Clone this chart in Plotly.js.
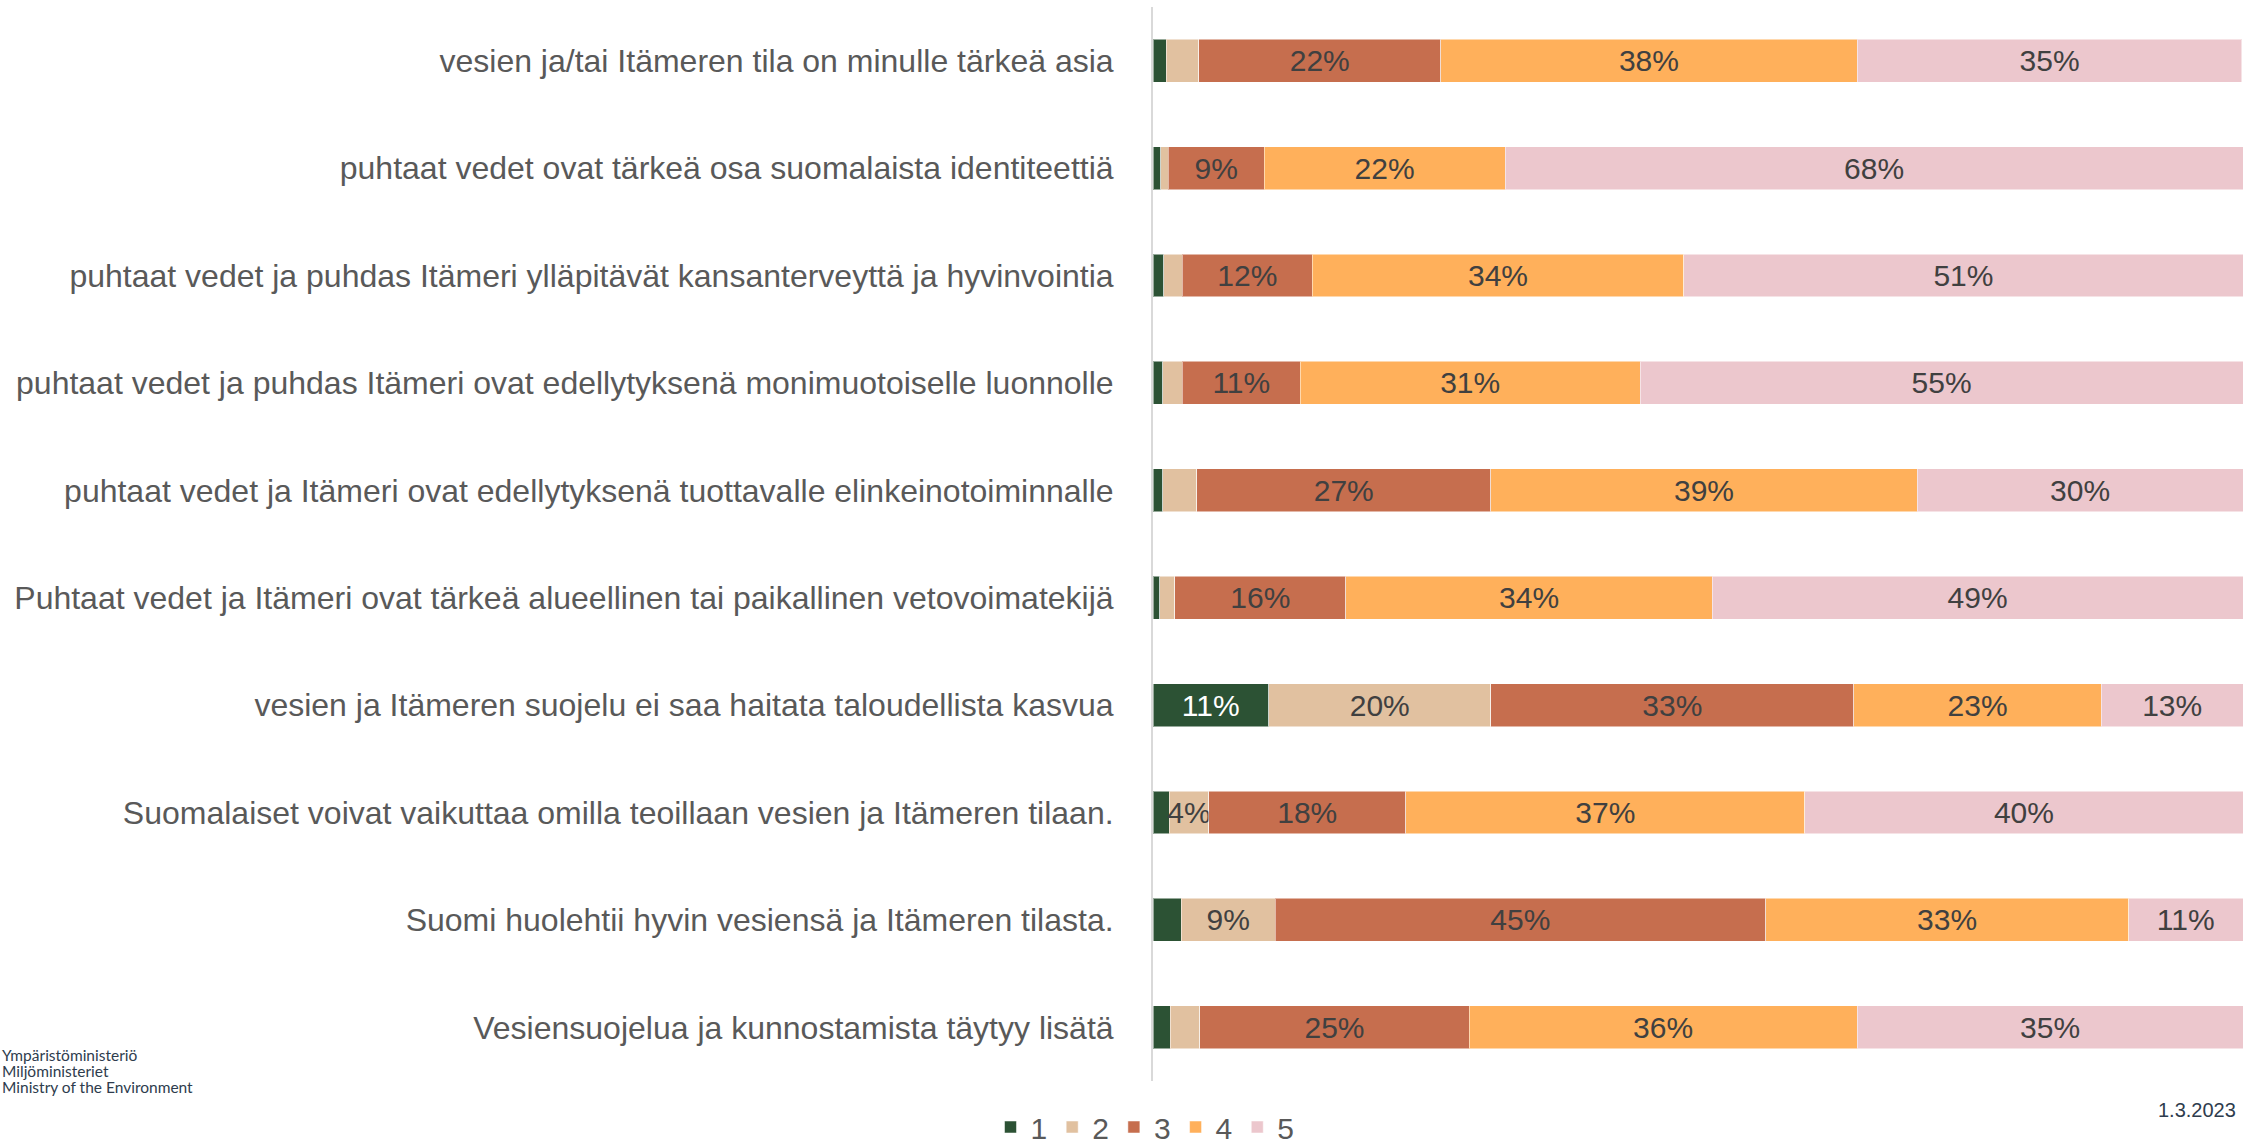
<!DOCTYPE html>
<html>
<head>
<meta charset="utf-8">
<script src="https://cdn.plot.ly/plotly-3.0.1.min.js"></script>
<style>
  html, body { margin: 0; padding: 0; background: #ffffff; }
  #chart { width: 2254px; height: 1147px; }
</style>
</head>
<body>
<div id="chart"></div>
<script>
// ---- data (percentages) ----
const categories = [
  "vesien ja/tai Itämeren tila on minulle tärkeä asia",
  "puhtaat vedet ovat tärkeä osa suomalaista identiteettiä",
  "puhtaat vedet ja puhdas Itämeri ylläpitävät kansanterveyttä ja hyvinvointia",
  "puhtaat vedet ja puhdas Itämeri ovat edellytyksenä monimuotoiselle luonnolle",
  "puhtaat vedet ja Itämeri ovat edellytyksenä tuottavalle elinkeinotoiminnalle",
  "Puhtaat vedet ja Itämeri ovat tärkeä alueellinen tai paikallinen vetovoimatekijä",
  "vesien ja Itämeren suojelu ei saa haitata taloudellista kasvua",
  "Suomalaiset voivat vaikuttaa omilla teoillaan vesien ja Itämeren tilaan.",
  "Suomi huolehtii hyvin vesiensä ja Itämeren tilasta.",
  "Vesiensuojelua ja kunnostamista täytyy lisätä"
];
const seriesNames = ["1", "2", "3", "4", "5"];
const s1 = [1.2, 0.7, 1.0, 0.9, 0.9, 0.6, 10.6, 1.5, 2.6, 1.6];
const s2 = [3.0, 0.7, 1.7, 1.8, 3.1, 1.4, 20.4, 3.6, 8.6, 2.7];
const s3 = [22.2, 8.8, 11.9, 10.8, 27.0, 15.7, 33.3, 18.1, 45.0, 24.7];
const s4 = [38.2, 22.1, 34.1, 31.2, 39.1, 33.6, 22.7, 36.6, 33.3, 35.6];
const s5 = [35.3, 67.7, 51.3, 55.3, 29.9, 48.7, 13.0, 40.2, 10.5, 35.4];
const dateText = "1.3.2023";
const footerLines = ["Ympäristöministeriö", "Miljöministeriet", "Ministry of the Environment"];

// ---- styling ----
const colors = ["#2c5234", "#e1c1a0", "#c66e4e", "#ffb05b", "#ecc7cd"];
const labelColors = ["#ffffff", "#404040", "#404040", "#404040", "#404040"];
const W = 2254, H = 1147;
const M = { l: 1153, r: 11, t: 7, b: 66 };
const PW = W - M.l - M.r, PH = H - M.t - M.b;
const px2x = px => (px - M.l) / PW;
const px2y = py => 1 - (py - M.t) / PH;
const FONT = "Liberation Sans, Arial, sans-serif";

const allSeries = [s1, s2, s3, s4, s5];
const traces = allSeries.map((vals, i) => ({
  type: "bar",
  orientation: "h",
  name: seriesNames[i],
  y: categories,
  x: vals,
  text: vals.map(v => Math.round(v) >= 4 ? Math.round(v) + "%" : ""),
  textposition: "inside",
  insidetextanchor: "middle",
  textangle: 0,
  constraintext: "none",
  cliponaxis: false,
  textfont: { family: FONT, size: 30, color: labelColors[i] },
  marker: { color: colors[i], line: { color: "rgba(255,255,255,0.5)", width: 1 } },
  hoverinfo: "skip"
}));

const annotations = footerLines.map((t, i) => ({
  text: t,
  xref: "paper", yref: "paper",
  x: px2x(0), y: px2y(1044 + i * 16),
  xanchor: "left", yanchor: "top",
  showarrow: false,
  font: { family: "Lato, Inter, sans-serif", size: 15.5, color: "#2e3c4d" }
}));
annotations.push({
  text: dateText,
  xref: "paper", yref: "paper",
  x: px2x(2238), y: px2y(1110),
  xanchor: "right", yanchor: "middle",
  showarrow: false,
  font: { family: FONT, size: 20, color: "#2e3c4d" }
});

const layout = {
  width: W, height: H,
  margin: M,
  paper_bgcolor: "#ffffff",
  plot_bgcolor: "#ffffff",
  barmode: "stack",
  bargap: 0.6,
  showlegend: true,
  legend: {
    orientation: "h",
    xref: "container", yref: "container",
    x: 1145 / W, xanchor: "center",
    y: (H - 1127) / H, yanchor: "middle",
    font: { family: FONT, size: 30, color: "#595959" },
    traceorder: "normal",
    bgcolor: "rgba(0,0,0,0)"
  },
  xaxis: {
    range: [0, 100],
    visible: false,
    fixedrange: true
  },
  yaxis: {
    autorange: "reversed",
    showline: true,
    linecolor: "#d9d9d9",
    linewidth: 2,
    showgrid: false,
    zeroline: false,
    ticks: "",
    ticklabelstandoff: 31,
    tickfont: { family: FONT, size: 32, color: "#595959" },
    fixedrange: true
  },
  annotations: annotations,
  uniformtext: { mode: false }
};

Plotly.newPlot("chart", traces, layout, { displayModeBar: false, staticPlot: true });
</script>
</body>
</html>
